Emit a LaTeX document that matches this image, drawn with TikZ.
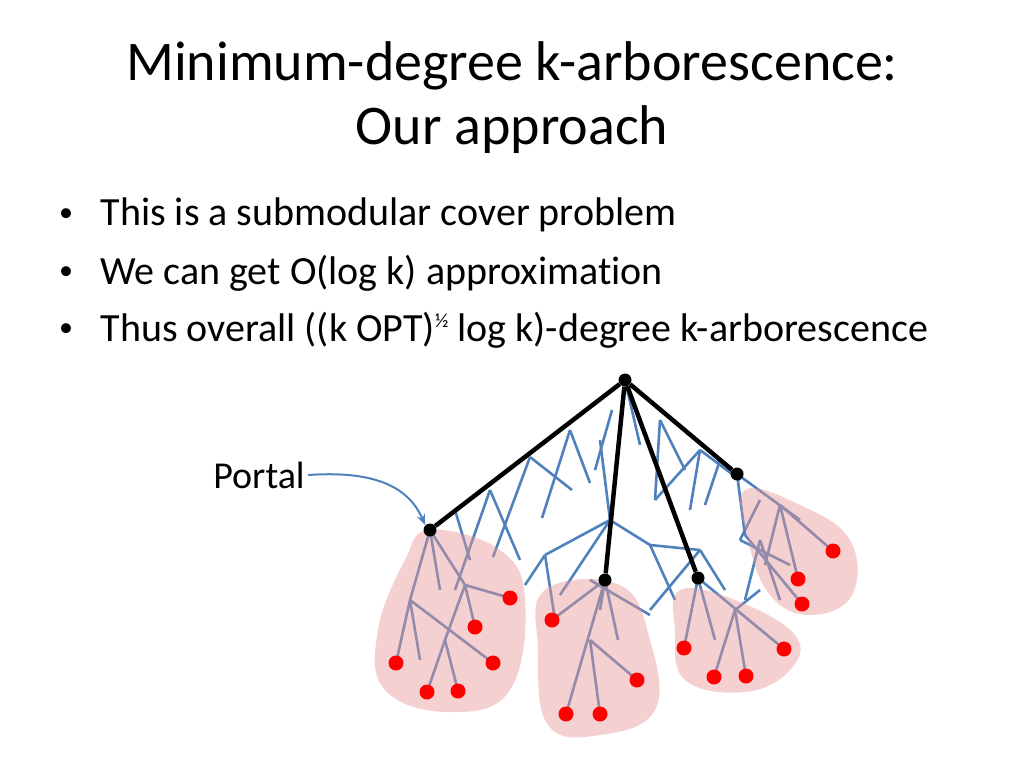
\documentclass[tikz,border=0pt]{standalone}
\usepackage{fontspec}
\setmainfont{Carlito}[Ligatures=NoCommon]
\usetikzlibrary{arrows.meta}
\definecolor{branchblue}{RGB}{79,129,189}
\definecolor{blobpink}{RGB}{232,150,150}
\tikzset{
  branch/.style={draw=branchblue, line width=2.6pt},
  blob/.style={fill=blobpink, fill opacity=0.45, draw=none},
  leaf/.style={circle, fill=red, inner sep=0pt, minimum size=15pt},
  hub/.style={circle, fill=black, inner sep=0pt, minimum size=13pt},
  tree/.style={draw=black, line width=4.5pt}
}
\begin{document}
\begin{tikzpicture}[x=1pt,y=-1pt]
  \useasboundingbox (0,0) rectangle (1024,768);
  % title and bullets
  \node (title) at (512,66) [font=\fontsize{56}{66}\selectfont] {Minimum-degree k-arborescence:};
  \node (title2) at (512,130) [font=\fontsize{56}{66}\selectfont] {Our approach};
  \foreach \t/\y [count=\i] in {This is a submodular cover problem/215,
      We can get O(log k) approximation/273,
      {Thus overall ((k OPT)\raisebox{0.7ex}{\fontsize{20}{20}\selectfont ½} log k)-degree k-arborescence}/330}
    \node (b\i) at (97,\y) [anchor=west, font=\fontsize{40}{48}\selectfont] {\t};
  \foreach \y in {215,273,330}
    \node at (66,\y) [font=\fontsize{28}{34}\selectfont] {•};
  % blue branching
  \foreach \xa/\ya/\xb/\yb in {
    625/380/640/445, 612/410/595/470, 570/430/590/483, 570/430/542/518,
    530/457/572/490, 530/457/493/557, 490/490/520/560, 490/490/455/590,
    455/510/470/560, 660/420/655/500, 660/420/685/470,
    700/450/655/500, 700/450/740/480, 700/450/690/510, 720/460/705/505,
    600/440/610/520, 610/520/545/555, 610/520/560/595, 610/520/650/545,
    545/555/525/585, 545/555/555/620, 650/545/675/600, 650/545/700/550,
    700/550/725/590, 700/550/650/610, 590/580/650/615,
    760/500/740/540, 740/540/790/565, 760/540/745/600, 760/540/780/600,
    430/530/465/585, 430/530/440/590, 430/530/410/600, 465/585/475/627,
    465/585/510/598, 465/585/445/640, 445/640/458/691, 445/640/427/692,
    410/600/396/663, 410/600/420/660, 410/600/493/663,
    605/580/600/610, 605/580/618/640, 605/580/566/714, 590/640/600/714,
    590/640/637/680, 605/580/552/620,
    698/578/684/648, 698/578/715/640, 698/578/784/649, 735/610/714/677,
    735/610/746/676, 735/610/760/590,
    737/474/800/520, 737/474/745/535, 780/505/833/551, 780/505/798/579,
    780/505/765/565, 745/535/802/604}
    \draw[branch] (\xa,\ya) -- (\xb,\yb);
  % pink regions
  \fill[blob] plot[smooth cycle, tension=0.7] coordinates {(430,530) (500,550) (525,600) (510,690) (450,712) (385,690) (378,630) (405,560)};
  \fill[blob] plot[smooth cycle, tension=0.7] coordinates {(545,590) (620,585) (650,640) (655,710) (600,735) (548,725) (538,650)};
  \fill[blob] plot[smooth cycle, tension=0.7] coordinates {(680,590) (735,600) (795,635) (790,670) (745,692) (685,680) (675,630)};
  \fill[blob] plot[smooth cycle, tension=0.7] coordinates {(745,490) (800,505) (850,540) (852,595) (810,615) (770,595) (748,540)};
  % leaves
  \foreach \x/\y [count=\i] in {396/663,427/692,458/691,493/663,475/627,510/598,
      552/620,566/714,600/714,637/680,684/648,714/677,746/676,784/649,
      833/551,798/579,802/604}
    \node[leaf] (l\i) at (\x,\y) {};
  % black tree
  \node[hub] (root) at (625,380) {};
  \node[hub] (portal) at (430,530) {};
  \node[hub] (h2) at (605,580) {};
  \node[hub] (h3) at (698,578) {};
  \node[hub] (h4) at (737,474) {};
  \foreach \h in {portal,h2,h3,h4}
    \draw[tree] (root) -- (\h);
  % portal label
  \node (plabel) at (259,475) [font=\fontsize{38}{46}\selectfont] {Portal};
  \draw[draw=branchblue, line width=2pt, -{Stealth[length=11pt]}] (plabel.east) .. controls (380,470) and (410,490) .. (portal.north west);
\end{tikzpicture}
\end{document}
